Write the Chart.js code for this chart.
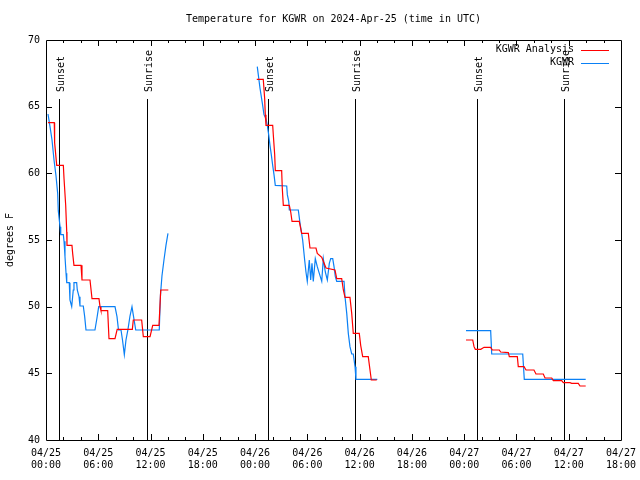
<!DOCTYPE html>
<html>
<head>
<meta charset="utf-8">
<script src="https://cdn.jsdelivr.net/npm/chart.js@4"></script>
<style>
html, body { margin: 0; padding: 0; background: #fff; }
canvas { display: block; }
</style>
</head>
<body>
<canvas id="chart" width="640" height="480"></canvas>
<script>
// hours since 04/25 00:00 UTC, temps in degrees F (null = gap)
const analysisHours = [0.23, 0.95, 0.99, 1.23, 1.99, 2.07, 2.26, 2.38, 2.41, 2.98, 3.06, 3.21, 4.02, 4.13, 5.05, 5.28, 6.08, 6.20, 6.31, 7.08, 7.23, 7.92, 8.17, 9.91, 10.02, 10.98, 11.17, 11.94, 12.25, 12.97, 13.17, 14.04,
  20,
  24.19, 24.94, 25.10, 25.17, 25.25, 26.02, 26.09, 26.25, 26.32, 27.05, 27.12, 27.24, 27.93, 28.09, 28.24, 29.07, 29.35, 30.11, 30.30, 30.99, 31.14, 31.65, 31.83, 32.14, 33.17, 33.37, 33.94, 34.13, 34.32, 34.89, 35.09, 35.27, 35.96, 36.12, 36.35, 36.99, 37.19, 37.34, 37.96,
  44,
  48.21, 48.98, 49.13, 49.28, 49.90, 50.28, 51.04, 51.23, 52.03, 52.19, 53.07, 53.18, 54.10, 54.21, 54.87, 55.10, 56.01, 56.24, 57.08, 57.28, 58.05, 58.23, 59.19, 59.38, 60.15, 60.34, 61.10, 61.29, 61.95];
const analysisTemps = [63.8, 63.8, 62.3, 60.6, 60.6, 59.6, 57.6, 55.6, 54.6, 54.6, 54.0, 53.1, 53.1, 52.0, 52.0, 50.6, 50.6, 50.0, 49.7, 49.7, 47.6, 47.6, 48.3, 48.3, 49.0, 49.0, 47.75, 47.75, 48.6, 48.6, 51.25, 51.25,
  null,
  67.05, 67.05, 65.6, 64.4, 63.6, 63.6, 62.9, 61.4, 60.2, 60.2, 58.9, 57.6, 57.6, 57.1, 56.4, 56.4, 55.5, 55.5, 54.4, 54.4, 54.0, 53.7, 53.4, 52.9, 52.75, 52.1, 52.1, 51.25, 50.7, 50.7, 49.5, 48.0, 48.0, 47.1, 46.25, 46.25, 45.25, 44.5, 44.5,
  null,
  47.5, 47.5, 47.0, 46.8, 46.8, 46.95, 46.95, 46.75, 46.75, 46.6, 46.55, 46.25, 46.25, 45.5, 45.5, 45.25, 45.25, 44.95, 44.95, 44.65, 44.65, 44.45, 44.45, 44.3, 44.3, 44.25, 44.25, 44.05, 44.05];

const obsHours = [0.23, 0.46, 0.69, 0.92, 1.15, 1.34, 1.41, 1.61, 1.69, 1.99, 2.07, 2.18, 2.30, 2.38, 2.67, 2.75, 2.95, 3.13, 3.21, 3.52, 3.59, 3.79, 3.90, 4.28, 4.44, 4.59, 5.62, 5.85, 6.05, 7.92, 8.15, 8.32, 8.61, 8.78, 8.99, 9.18, 9.41, 9.64, 9.87, 9.99, 10.30, 13.00, 13.14, 13.31, 13.54, 13.77, 14.00,
  20,
  24.25, 24.56, 24.87, 25.02, 25.25, 25.40, 25.56, 25.71, 25.86, 26.02, 26.17, 26.32, 27.63, 27.70, 27.86, 27.93, 28.96, 29.16, 29.46, 29.69, 29.84, 29.99, 30.22, 30.38, 30.53, 30.68, 30.91, 31.14, 31.37, 31.65, 31.83, 32.06, 32.29, 32.52, 32.68, 32.91, 33.06, 33.21, 33.37, 34.21, 34.32, 34.52, 34.70, 34.89, 35.09, 35.27, 35.47, 35.58, 38.03,
  44,
  48.21, 51.04, 51.16, 54.72, 54.90, 61.95];
const obsTemps = [64.45, 63.5, 62.5, 61.0, 59.8, 58.5, 57.2, 56.0, 55.4, 55.4, 54.9, 53.75, 52.5, 51.8, 51.8, 50.5, 50.0, 51.25, 51.8, 51.8, 51.25, 50.75, 50.05, 50.05, 49.25, 48.25, 48.25, 49.15, 50.0, 50.0, 49.25, 48.25, 48.25, 47.5, 46.4, 47.5, 48.3, 49.3, 50.0, 49.5, 48.25, 48.25, 50.9, 52.3, 53.5, 54.6, 55.5,
  null,
  68.0, 66.4, 65.1, 64.4, 64.1, 63.6, 62.9, 62.1, 61.4, 60.6, 59.9, 59.1, 59.05, 58.4, 57.9, 57.25, 57.25, 56.25, 55.0, 53.5, 52.6, 51.9, 53.5, 52.0, 53.25, 51.9, 53.6, 53.0, 52.5, 51.9, 53.6, 52.6, 52.0, 53.25, 53.6, 53.6, 53.0, 52.25, 51.9, 51.9, 50.75, 49.5, 48.0, 47.0, 46.45, 46.45, 45.5, 44.55, 44.55,
  null,
  48.2, 48.2, 46.45, 46.45, 44.55, 44.55];

const sunsetHours = [1.5, 25.5, 49.5];
const sunriseHours = [11.6, 35.5, 59.5];

const tickDates = ['04/25', '04/25', '04/25', '04/25', '04/26', '04/26', '04/26', '04/26', '04/27', '04/27', '04/27', '04/27'];
const tickTimes = ['00:00', '06:00', '12:00', '18:00', '00:00', '06:00', '12:00', '18:00', '00:00', '06:00', '12:00', '18:00'];

const FONT = '10px "DejaVu Sans Mono", monospace';
const RED = '#ff0000';
const BLUE = '#0a80f5';

function toPoints(hours, temps) {
  return hours.map((h, i) => ({ x: h, y: temps[i] }));
}

function crisp(v) { return Math.round(v) + 0.5; }

const gnuplotFrame = {
  id: 'gnuplotFrame',
  beforeDatasetsDraw(chart) {
    const { ctx, chartArea: a, scales: { x } } = chart;
    ctx.save();
    ctx.strokeStyle = '#000';
    ctx.lineWidth = 1;
    ctx.fillStyle = '#000';
    ctx.font = FONT;
    const events = sunsetHours.map(h => [h, 'Sunset']).concat(sunriseHours.map(h => [h, 'Sunrise']));
    events.forEach(([h, label]) => {
      const px = crisp(x.getPixelForValue(h));
      ctx.beginPath();
      ctx.moveTo(px, a.top + 59);
      ctx.lineTo(px, a.bottom);
      ctx.stroke();
      ctx.save();
      ctx.translate(px + 4.5, a.top + 52);
      ctx.rotate(-Math.PI / 2);
      ctx.textAlign = 'left';
      ctx.textBaseline = 'alphabetic';
      ctx.fillText(label, 0, 0);
      ctx.restore();
    });
    ctx.restore();
  },
  afterDraw(chart) {
    const { ctx, chartArea: a, scales: { x, y } } = chart;
    ctx.save();
    ctx.strokeStyle = '#000';
    ctx.lineWidth = 1;
    ctx.beginPath();
    ctx.rect(crisp(a.left), crisp(a.top), Math.round(a.right - a.left), Math.round(a.bottom - a.top));
    ctx.stroke();

    // inward ticks
    ctx.beginPath();
    for (let v = 45; v < 70; v += 5) {
      const py = crisp(y.getPixelForValue(v));
      ctx.moveTo(a.left, py); ctx.lineTo(a.left + 6, py);
      ctx.moveTo(a.right - 6, py); ctx.lineTo(a.right, py);
    }
    for (let h = 2; h < 66; h += 2) {
      const px = crisp(x.getPixelForValue(h));
      const len = h % 6 === 0 ? 6 : 3;
      ctx.moveTo(px, a.bottom); ctx.lineTo(px, a.bottom - len);
      ctx.moveTo(px, a.top); ctx.lineTo(px, a.top + len);
    }
    ctx.stroke();

    // title
    ctx.fillStyle = '#000';
    ctx.font = FONT;
    ctx.textAlign = 'center';
    ctx.textBaseline = 'middle';
    ctx.fillText('Temperature for KGWR on 2024-Apr-25 (time in UTC)', (a.left + a.right) / 2, 19);

    // legend
    const entries = [['KGWR Analysis', RED], ['KGWR', BLUE]];
    entries.forEach(([label, color], i) => {
      const ly = a.top + 9.5 + i * 13;
      ctx.fillStyle = '#000';
      ctx.textAlign = 'right';
      ctx.fillText(label, a.right - 47, ly);
      ctx.strokeStyle = color;
      ctx.beginPath();
      ctx.moveTo(a.right - 40, crisp(ly));
      ctx.lineTo(a.right - 12, crisp(ly));
      ctx.stroke();
    });
    ctx.restore();
  }
};

new Chart(document.getElementById('chart'), {
  type: 'line',
  data: {
    datasets: [
      {
        label: 'KGWR Analysis',
        data: toPoints(analysisHours, analysisTemps),
        borderColor: RED,
        borderWidth: 1.2,
        pointRadius: 0,
        tension: 0,
        spanGaps: false
      },
      {
        label: 'KGWR',
        data: toPoints(obsHours, obsTemps),
        borderColor: BLUE,
        borderWidth: 1.2,
        pointRadius: 0,
        tension: 0,
        spanGaps: false
      }
    ]
  },
  options: {
    responsive: false,
    animation: false,
    devicePixelRatio: 1,
    layout: { padding: { top: 40, right: 19, left: 0, bottom: 0 } },
    plugins: {
      legend: { display: false },
      title: { display: false },
      tooltip: { enabled: false }
    },
    scales: {
      x: {
        type: 'linear',
        min: 0,
        max: 66,
        grid: { display: false, drawTicks: false, tickLength: 0 },
        border: { display: false },
        afterFit(scale) {
          scale.height = 40;
          scale.paddingLeft = 0;
          scale.paddingRight = 0;
        },
        ticks: {
          stepSize: 6,
          autoSkip: false,
          maxRotation: 0,
          padding: 7,
          color: '#000',
          font: { family: '"DejaVu Sans Mono", monospace', size: 10 },
          callback: (v) => {
            const i = Math.round(v / 6);
            return [tickDates[i], tickTimes[i]];
          }
        }
      },
      y: {
        min: 40,
        max: 70,
        grid: { display: false, drawTicks: false, tickLength: 0 },
        border: { display: false },
        afterFit(scale) {
          scale.width = 46;
          scale.paddingTop = 0;
          scale.paddingBottom = 0;
        },
        ticks: {
          stepSize: 5,
          padding: 6,
          color: '#000',
          font: { family: '"DejaVu Sans Mono", monospace', size: 10 }
        },
        title: {
          display: true,
          text: 'degrees F',
          color: '#000',
          padding: { top: 4, bottom: 0 },
          font: { family: '"DejaVu Sans Mono", monospace', size: 10 }
        }
      }
    }
  },
  plugins: [gnuplotFrame]
});
</script>
</body>
</html>
